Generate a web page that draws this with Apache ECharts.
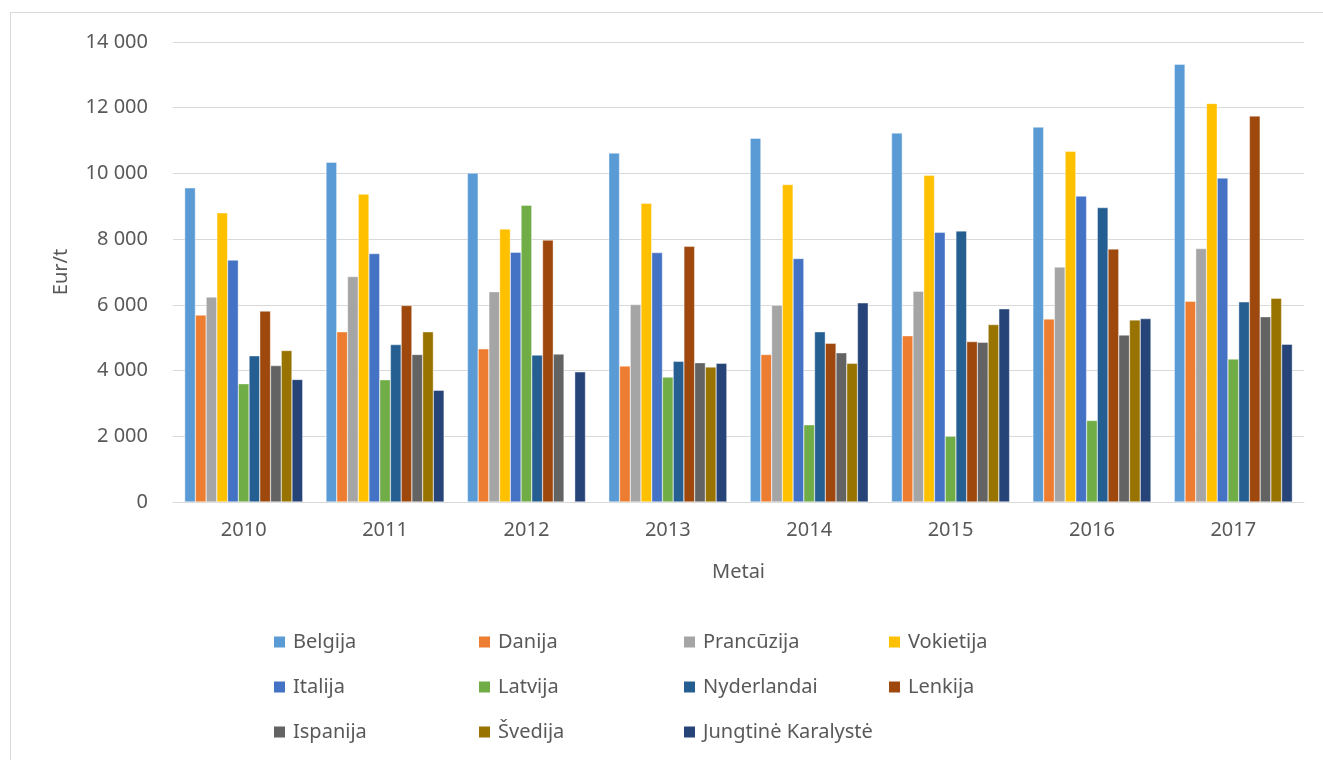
<!DOCTYPE html>
<html>
<head>
<meta charset="utf-8">
<script src="https://cdn.jsdelivr.net/npm/echarts@6/dist/echarts.min.js"></script>
<style>
  html, body { margin: 0; padding: 0; background: #fff; }
  #frame { position: absolute; left: 10px; top: 12px; width: 1323px; height: 760px; border: 1px solid #d9d9d9; box-sizing: border-box; }
  #chart { position: absolute; left: 0; top: 0; width: 1323px; height: 760px; }
</style>
</head>
<body>
<div id="frame"></div>
<div id="chart"></div>
<script>
// Average price by country, Eur/t, 2010–2017
const years = ['2010', '2011', '2012', '2013', '2014', '2015', '2016', '2017'];

const countries = ['Belgija', 'Danija', 'Prancūzija', 'Vokietija', 'Italija', 'Latvija',
  'Nyderlandai', 'Lenkija', 'Ispanija', 'Švedija', 'Jungtinė Karalystė'];

const colors = ['#5B9BD5', '#ED7D31', '#A5A5A5', '#FFC000', '#4472C4', '#70AD47',
  '#255E91', '#9E480E', '#636363', '#997300', '#264478'];

const belgija     = [9560, 10340, 10010, 10620, 11070, 11230, 11410, 13320];
const danija      = [5690, 5180, 4660, 4140, 4490, 5060, 5570, 6110];
const prancuzija  = [6240, 6860, 6400, 6010, 5990, 6410, 7150, 7710];
const vokietija   = [8800, 9370, 8310, 9090, 9660, 9940, 10670, 12130];
const italija     = [7360, 7560, 7600, 7590, 7410, 8210, 9310, 9860];
const latvija     = [3600, 3720, 9030, 3800, 2350, 2000, 2480, 4350];
const nyderlandai = [4450, 4790, 4470, 4280, 5180, 8250, 8960, 6090];
const lenkija     = [5810, 5980, 7970, 7780, 4830, 4880, 7700, 11750];
const ispanija    = [4150, 4490, 4500, 4240, 4540, 4860, 5080, 5640];
const svedija     = [4610, 5180, null, 4110, 4220, 5400, 5540, 6200];
const jk          = [3730, 3400, 3960, 4220, 6060, 5880, 5580, 4800];

const seriesValues = [belgija, danija, prancuzija, vokietija, italija, latvija,
  nyderlandai, lenkija, ispanija, svedija, jk];

const yTicks = [0, 2000, 4000, 6000, 8000, 10000, 12000, 14000];

const fontFamily = '"Noto Sans", "Open Sans", sans-serif';
const textColor = '#595959';

function withSpaces(v) {
  return String(v).replace(/\B(?=(\d{3})+(?!\d))/g, ' ');
}

const legendRows = [countries.slice(0, 4), countries.slice(4, 8), countries.slice(8)];
const legendTops = [632, 677, 722];

const chart = echarts.init(document.getElementById('chart'), null, { renderer: 'canvas' });

chart.setOption({
  backgroundColor: 'transparent',
  animation: false,
  color: colors,
  grid: { left: 173, right: 19, top: 42, bottom: 258, containLabel: false },
  legend: legendRows.map((row, i) => ({
    data: row,
    left: 272,
    top: legendTops[i],
    padding: 0,
    orient: 'horizontal',
    itemWidth: 13,
    itemHeight: 13,
    itemGap: 0,
    icon: 'rect',
    selectedMode: false,
    textStyle: {
      fontFamily: fontFamily,
      fontSize: 20,
      color: textColor,
      width: 184,
      lineHeight: 20,
      padding: [0, 0, 0, 2]
    }
  })),
  xAxis: {
    type: 'category',
    data: years,
    name: 'Metai',
    nameLocation: 'middle',
    nameGap: 60,
    nameTextStyle: { fontFamily: fontFamily, fontSize: 20, color: textColor },
    axisLine: { show: true, lineStyle: { color: '#d9d9d9', width: 1 } },
    axisTick: { show: false },
    axisLabel: { fontFamily: fontFamily, fontSize: 20, color: textColor, margin: 18 },
    splitLine: { show: false }
  },
  yAxis: {
    type: 'value',
    min: yTicks[0],
    max: yTicks[yTicks.length - 1],
    interval: 2000,
    name: 'Eur/t',
    nameLocation: 'middle',
    nameGap: 102,
    nameRotate: 90,
    nameTextStyle: { fontFamily: fontFamily, fontSize: 20, color: textColor },
    axisLine: { show: false },
    axisTick: { show: false },
    axisLabel: {
      fontFamily: fontFamily, fontSize: 20, color: textColor, margin: 25,
      formatter: v => withSpaces(v)
    },
    splitLine: { show: true, lineStyle: { color: '#d9d9d9', width: 1 } }
  },
  series: countries.map((name, i) => ({
    name: name,
    type: 'bar',
    data: seriesValues[i],
    barGap: '0%',
    barCategoryGap: '16.5%',
    itemStyle: { color: colors[i], borderColor: '#ffffff', borderWidth: 0.4 }
  }))
});
</script>
</body>
</html>
